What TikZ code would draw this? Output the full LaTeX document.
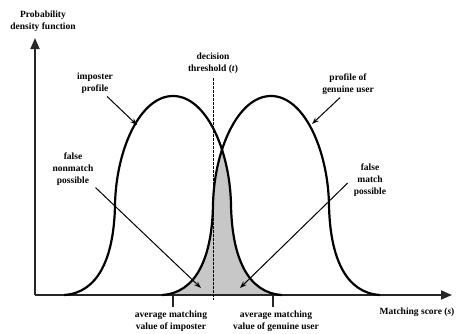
\documentclass[tikz,border=0pt]{standalone}
\usepackage{fontspec}
\setmainfont{Liberation Serif}
\usetikzlibrary{arrows.meta}

% One score profile: flared tails and a rounded arch, centred on #1
\newcommand{\profilecurve}[1]{%
  ({#1-109},295) .. controls ({#1-75},293) and ({#1-59},258) .. ({#1-58},205)
  .. controls ({#1-57},150) and ({#1-33},96) .. ({#1},96)
  .. controls ({#1+33},96) and ({#1+57},150) .. ({#1+58},205)
  .. controls ({#1+59},258) and ({#1+75},293) .. ({#1+109},295)}

\begin{document}
\begin{tikzpicture}[x=1pt,y=-1pt,
  lbl/.style={font=\bfseries\fontsize{9.5}{12}\selectfont, align=center, inner sep=0pt},
  axisline/.style={line width=1.8pt, draw=black!85, -{Triangle[length=11pt,width=9pt]}},
  profile/.style={line width=2.2pt, black},
  pointer/.style={line width=1pt, -{Stealth[length=7pt,width=5pt]}},
  tickmark/.style={line width=1.3pt, black!85},
  threshold/.style={line width=1pt, dash pattern=on 2.5pt off 1.5pt}]
\useasboundingbox (0,0) rectangle (465,333);

% overlap of the two profiles
\begin{scope}
  \clip \profilecurve{173} -- cycle;
  \fill[black!22] \profilecurve{271} -- cycle;
\end{scope}

% axes
\coordinate (origin) at (35,295);
\coordinate (ytip) at (35,38);
\coordinate (xtip) at (452,295);
\draw[axisline] (origin) -- (ytip);
\draw[axisline] (origin) -- (xtip);

% decision threshold
\coordinate (thtop) at (213,78);
\coordinate (thbot) at (213,300);
\draw[threshold] (thtop) -- (thbot);

% profiles
\draw[profile] \profilecurve{173};
\draw[profile] \profilecurve{271};

% average matching values
\coordinate (avgi) at (173,295);
\coordinate (avgib) at (173,307);
\coordinate (avgg) at (273,295);
\coordinate (avggb) at (273,307);
\draw[tickmark] (avgi) -- (avgib);
\draw[tickmark] (avgg) -- (avggb);

% labels
\node[lbl] (ylab) at (43,21) {Probability\\density function};
\node[lbl] (xlab) at (417,312) {Matching score (\textit{s})};
\node[lbl] (thlab) at (213,63) {decision\\threshold (\textit{t})};
\node[lbl] (implab) at (95,83) {imposter\\profile};
\node[lbl] (genlab) at (348,84) {profile of\\genuine user};
\node[lbl] (fnm) at (73,169) {false\\nonmatch\\possible};
\node[lbl] (fm) at (370,180) {false\\match\\possible};
\node[lbl] (avgilab) at (171,321) {average matching\\value of imposter};
\node[lbl] (avgglab) at (276,321) {average matching\\value of genuine user};

% pointers from the labels to the curves and the shaded areas
\coordinate (impcurve) at (137,125);
\coordinate (gencurve) at (312,124);
\coordinate (fnmarea) at (201,288);
\coordinate (fmarea) at (240,288);
\draw[pointer] ([xshift=-6pt,yshift=-3pt]implab.south east) -- (impcurve);
\draw[pointer] ([xshift=-8pt,yshift=-3pt]genlab.south) -- (gencurve);
\draw[pointer] ([xshift=2pt,yshift=-2pt]fnm.south east) -- (fnmarea);
\draw[pointer] ([xshift=-6pt,yshift=-3pt]fm.west) -- (fmarea);
\end{tikzpicture}
\end{document}
